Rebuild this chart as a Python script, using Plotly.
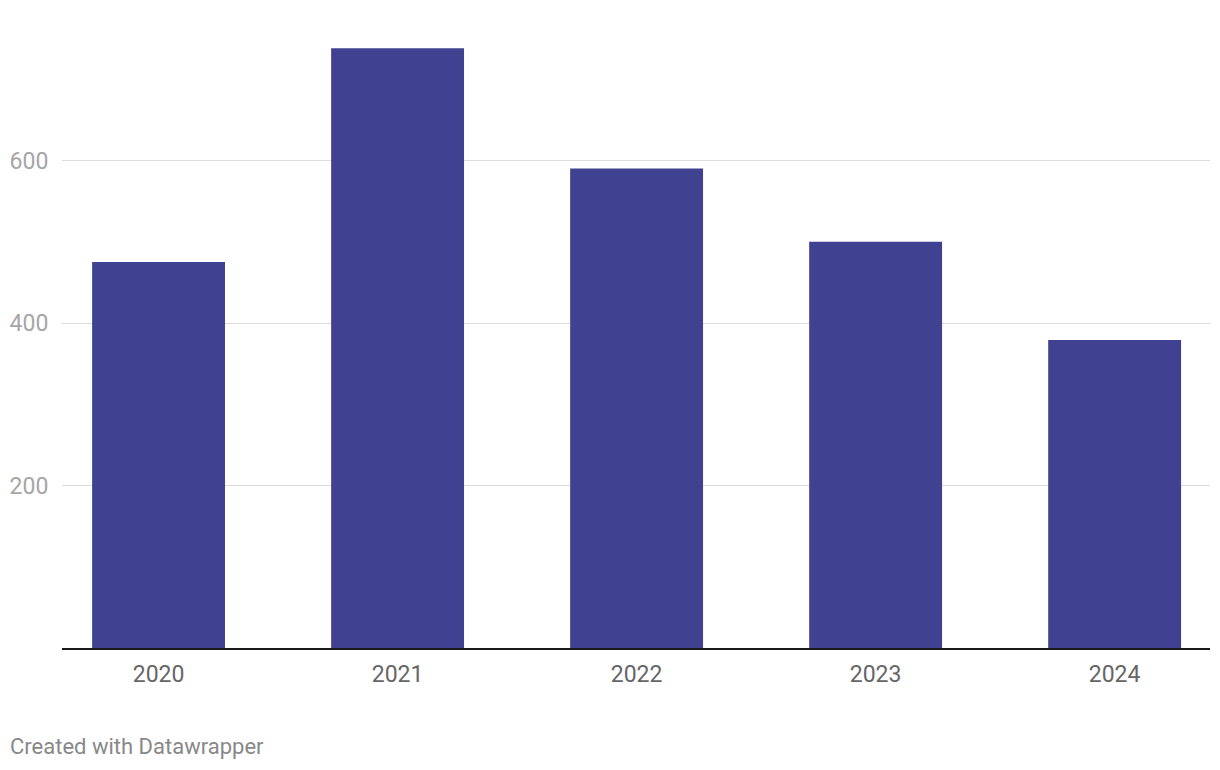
import plotly.graph_objects as go

years = ["2020", "2021", "2022", "2023", "2024"]
values = [475, 738, 590, 500, 379]
y_ticks = [200, 400, 600]

fig = go.Figure()
fig.add_trace(go.Bar(
    x=list(range(len(years))), y=values,
    marker=dict(color="#404291", line=dict(width=0)),
    width=0.556, hoverinfo="x+y",
))

fig.update_layout(
    width=1220, height=770,
    margin=dict(l=62, r=10, t=40, b=122),
    plot_bgcolor="white", paper_bgcolor="white",
    showlegend=False,
    font=dict(family="Roboto", size=20, color="#666666"),
    xaxis=dict(
        tickmode="array", tickvals=list(range(len(years))), ticktext=years,
        range=[-0.404, 4.399], showgrid=False, zeroline=False,
        showline=True, linecolor="#1a1a1a", linewidth=2,
        ticks="outside", ticklen=4, tickcolor="rgba(0,0,0,0)",
        tickfont=dict(family="Roboto", size=23, color="#666666"),
        automargin=False,
    ),
    yaxis=dict(
        tickmode="array", tickvals=y_ticks, ticktext=[str(v) for v in y_ticks],
        range=[0, 748.3], showgrid=True, gridcolor="#dcdcdc", gridwidth=1,
        zeroline=False, showline=False,
        ticks="outside", ticklen=8, tickcolor="rgba(0,0,0,0)",
        tickfont=dict(family="Roboto", size=23, color="#a6a6a6"),
        automargin=False,
    ),
    annotations=[dict(
        text="Created with Datawrapper", xref="paper", yref="paper",
        x=-54/1148, y=-(746-648)/608, xanchor="left", yanchor="middle",
        showarrow=False,
        font=dict(family="Roboto", size=22, color="#888888"),
    )],
)

fig.write_html("out.html")
